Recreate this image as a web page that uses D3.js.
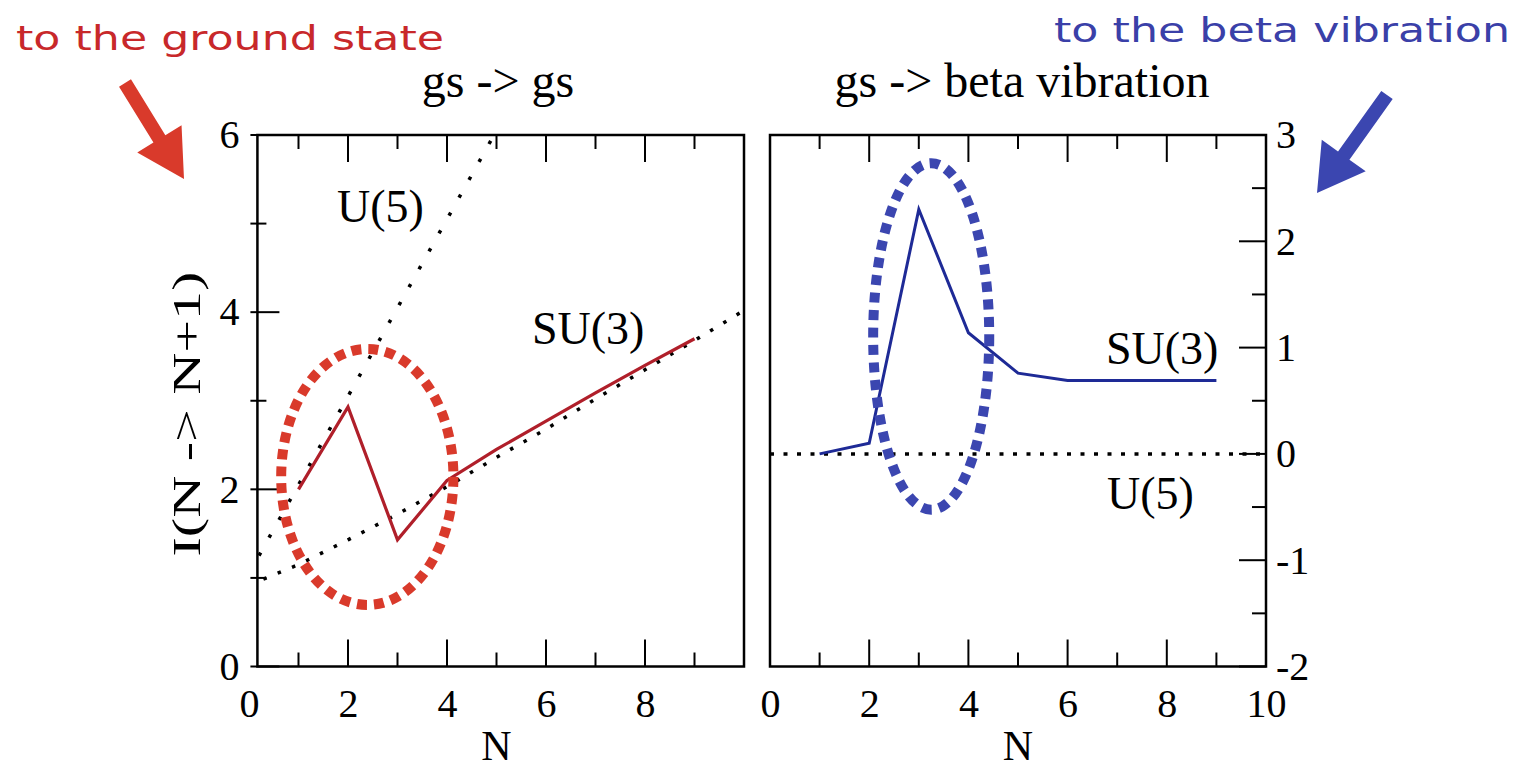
<!DOCTYPE html>
<html>
<head>
<meta charset="utf-8">
<script src="https://cdn.jsdelivr.net/npm/d3@7"></script>
<style>
  html, body { margin: 0; padding: 0; background: #ffffff; }
  svg { display: block; }
</style>
</head>
<body>
<svg id="chart" width="1524" height="768"></svg>
<script>
// ---- data -------------------------------------------------------------
// tick values
const nTicksLeft = [0, 2, 4, 6, 8];
const nTicksRight = [0, 2, 4, 6, 8, 10];
const nMinorTicks = [1, 3, 5, 7, 9];
const gsTicks = [0, 2, 4, 6];
const gsMinorTicks = [1, 3, 5];
const betaTicks = [-2, -1, 0, 1, 2, 3];
const betaMinorTicks = [-1.5, -0.5, 0.5, 1.5, 2.5];

// gs -> gs : calculated curve and the two limits
const gsN = [1, 2, 3, 4, 5, 6, 7, 8, 9];
const gsValues = [2.00, 2.93, 1.43, 2.10, 2.45, 2.77, 3.09, 3.40, 3.70];
const gsU5N = [0, 1, 2, 3, 4, 5];
const gsU5Values = [1.05, 2.05, 3.05, 4.05, 5.05, 6.05];
const gsSU3N = [0, 1, 2, 3, 4, 5, 6, 7, 8, 9, 10];
const gsSU3Values = [0.92, 1.15, 1.43, 1.72, 2.03, 2.36, 2.68, 3.02, 3.35, 3.68, 4.02];

// gs -> beta vibration : calculated curve and the U(5) limit
const betaN = [1, 2, 3, 4, 5, 6, 7, 8, 9];
const betaValues = [0.00, 0.10, 2.30, 1.14, 0.76, 0.69, 0.69, 0.69, 0.69];
const betaU5N = [0, 10];
const betaU5Values = [0, 0];

// highlighted regions: [centre N, centre value, radius in N, radius in value]
const gsHighlight = [2.39, 2.14, 1.74, 1.445];
const betaHighlight = [3.25, 1.105, 1.17, 1.63];

// ---- layout -----------------------------------------------------------
const svg = d3.select("#chart");
const serif = "'Liberation Serif', 'Times New Roman', Times, serif";
const handFont = "'DejaVu Sans', Verdana, sans-serif";
const plain = d => String(d);

const yTop = 135, yBottom = 666.5;
const xGs = d3.scaleLinear().domain([0, 10]).range([249, 744]);
const yGs = d3.scaleLinear().domain([0, 6]).range([yBottom, yTop]);
const xBeta = d3.scaleLinear().domain([0, 10]).range([770, 1266]);
const yBeta = d3.scaleLinear().domain([-2, 3]).range([yBottom, yTop]);
const gsFrameStart = 0.17;   // left edge of the first frame in N units

const RED_LINE = "#b01f2a", RED = "#d93a2b";
const BLUE_LINE = "#1e2a96", BLUE = "#3b46b0";

const majorLen = 27, minorLen = 14, outLen = 7;

function frame(g, x0, x1) {
  g.append("rect")
    .attr("x", x0).attr("y", yTop)
    .attr("width", x1 - x0).attr("height", yBottom - yTop)
    .attr("fill", "none").attr("stroke", "#000").attr("stroke-width", 2.5);
}

function xTicks(g, x, values, len) {
  values.forEach(v => {
    g.append("line").attr("x1", x(v)).attr("x2", x(v))
      .attr("y1", yBottom).attr("y2", yBottom - len)
      .attr("stroke", "#000").attr("stroke-width", 2);
    g.append("line").attr("x1", x(v)).attr("x2", x(v))
      .attr("y1", yTop).attr("y2", yTop + len)
      .attr("stroke", "#000").attr("stroke-width", 2);
  });
}

function styleLabels(g, size) {
  g.select(".domain").remove();
  g.selectAll("text").attr("font-family", serif).attr("font-size", size).attr("fill", "#000");
}

// ---- panel 1 : gs -> gs ----------------------------------------------
const p1 = svg.append("g");
const p1x0 = xGs(gsFrameStart), p1x1 = xGs(10);

svg.append("defs").append("clipPath").attr("id", "clipGs")
  .append("rect").attr("x", p1x0).attr("y", yTop)
  .attr("width", p1x1 - p1x0).attr("height", yBottom - yTop);

// bottom axis labels
p1.append("g")
  .attr("transform", `translate(0,${yBottom})`)
  .call(d3.axisBottom(xGs).tickValues(nTicksLeft).tickSize(0).tickPadding(22).tickFormat(plain))
  .call(g => styleLabels(g, 40));

// left axis labels
p1.append("g")
  .attr("transform", `translate(${p1x0},0)`)
  .call(d3.axisLeft(yGs).tickValues(gsTicks).tickSize(0).tickPadding(18).tickFormat(plain))
  .call(g => styleLabels(g, 40));

xTicks(p1, xGs, nTicksLeft.filter(d => d > 0), majorLen);
xTicks(p1, xGs, nMinorTicks, minorLen);
gsTicks.forEach(v => p1.append("line")
  .attr("x1", p1x0 - outLen).attr("x2", p1x0 + 22)
  .attr("y1", yGs(v)).attr("y2", yGs(v)).attr("stroke", "#000").attr("stroke-width", 2));
gsMinorTicks.forEach(v => p1.append("line")
  .attr("x1", p1x0 - outLen).attr("x2", p1x0 + 9)
  .attr("y1", yGs(v)).attr("y2", yGs(v)).attr("stroke", "#000").attr("stroke-width", 2));

const lineGs = d3.line().x(d => xGs(d[0])).y(d => yGs(d[1]));
const plot1 = p1.append("g").attr("clip-path", "url(#clipGs)");

plot1.append("path").datum(d3.zip(gsU5N, gsU5Values)).attr("d", lineGs)
  .attr("fill", "none").attr("stroke", "#000").attr("stroke-width", 3.5)
  .attr("stroke-dasharray", "3.5,17");
plot1.append("path").datum(d3.zip(gsSU3N, gsSU3Values)).attr("d", lineGs)
  .attr("fill", "none").attr("stroke", "#000").attr("stroke-width", 3.5)
  .attr("stroke-dasharray", "3.5,12");
plot1.append("path").datum(d3.zip(gsN, gsValues)).attr("d", lineGs)
  .attr("fill", "none").attr("stroke", RED_LINE).attr("stroke-width", 3.2)
  .attr("stroke-linejoin", "miter");

frame(p1, p1x0, p1x1);

p1.append("ellipse")
  .attr("cx", xGs(gsHighlight[0])).attr("cy", yGs(gsHighlight[1]))
  .attr("rx", xGs(gsHighlight[0] + gsHighlight[2]) - xGs(gsHighlight[0]))
  .attr("ry", yGs(gsHighlight[1]) - yGs(gsHighlight[1] + gsHighlight[3]))
  .attr("fill", "none").attr("stroke", RED).attr("stroke-width", 10)
  .attr("stroke-dasharray", "10,7");

p1.append("text").text("U(5)").attr("x", 337).attr("y", 222)
  .attr("font-family", serif).attr("font-size", 46);
p1.append("text").text("SU(3)").attr("x", 532).attr("y", 344)
  .attr("font-family", serif).attr("font-size", 46);
p1.append("text").text("gs -> gs").attr("x", 498).attr("y", 97)
  .attr("text-anchor", "middle").attr("font-family", serif).attr("font-size", 48);
p1.append("text").text("N").attr("x", xGs(5)).attr("y", 760)
  .attr("text-anchor", "middle").attr("font-family", serif).attr("font-size", 42);
p1.append("text").text("I(N -> N+1)")
  .attr("transform", `translate(200,${yGs(2.85)}) rotate(-90)`)
  .attr("text-anchor", "middle").attr("font-family", serif).attr("font-size", 40)
  .attr("textLength", 285).attr("lengthAdjust", "spacingAndGlyphs");

// ---- panel 2 : gs -> beta vibration ------------------------------------
const p2 = svg.append("g");
const p2x0 = xBeta(0), p2x1 = xBeta(10);

p2.append("g")
  .attr("transform", `translate(0,${yBottom})`)
  .call(d3.axisBottom(xBeta).tickValues(nTicksRight).tickSize(0).tickPadding(22).tickFormat(plain))
  .call(g => styleLabels(g, 40));

p2.append("g")
  .attr("transform", `translate(${p2x1},0)`)
  .call(d3.axisRight(yBeta).tickValues(betaTicks).tickSize(0).tickPadding(10).tickFormat(plain))
  .call(g => styleLabels(g, 40));

xTicks(p2, xBeta, nTicksRight.filter(d => d > 0 && d < 10), majorLen);
xTicks(p2, xBeta, nMinorTicks, minorLen);
betaTicks.forEach(v => p2.append("line")
  .attr("x1", p2x1 - 27).attr("x2", p2x1)
  .attr("y1", yBeta(v)).attr("y2", yBeta(v)).attr("stroke", "#000").attr("stroke-width", 2));
betaMinorTicks.forEach(v => p2.append("line")
  .attr("x1", p2x1 - 14).attr("x2", p2x1)
  .attr("y1", yBeta(v)).attr("y2", yBeta(v)).attr("stroke", "#000").attr("stroke-width", 2));

const lineBeta = d3.line().x(d => xBeta(d[0])).y(d => yBeta(d[1]));
p2.append("path").datum(d3.zip(betaU5N, betaU5Values)).attr("d", lineBeta)
  .attr("fill", "none").attr("stroke", "#000").attr("stroke-width", 3.5)
  .attr("stroke-dasharray", "4,9.5");
p2.append("path").datum(d3.zip(betaN, betaValues)).attr("d", lineBeta)
  .attr("fill", "none").attr("stroke", BLUE_LINE).attr("stroke-width", 3);

frame(p2, p2x0, p2x1);

p2.append("ellipse")
  .attr("cx", xBeta(betaHighlight[0])).attr("cy", yBeta(betaHighlight[1]))
  .attr("rx", xBeta(betaHighlight[0] + betaHighlight[2]) - xBeta(betaHighlight[0]))
  .attr("ry", yBeta(betaHighlight[1]) - yBeta(betaHighlight[1] + betaHighlight[3]))
  .attr("fill", "none").attr("stroke", BLUE).attr("stroke-width", 10)
  .attr("stroke-dasharray", "10,7.5");

p2.append("text").text("SU(3)").attr("x", 1106).attr("y", 364)
  .attr("font-family", serif).attr("font-size", 46);
p2.append("text").text("U(5)").attr("x", 1107).attr("y", 509)
  .attr("font-family", serif).attr("font-size", 46);
p2.append("text").text("gs -> beta vibration").attr("x", 1022).attr("y", 97)
  .attr("text-anchor", "middle").attr("font-family", serif).attr("font-size", 48);
p2.append("text").text("N").attr("x", xBeta(5)).attr("y", 760)
  .attr("text-anchor", "middle").attr("font-family", serif).attr("font-size", 42);

// ---- callouts -----------------------------------------------------------
function arrow(tail, tip, shaft, headLen, headWidth) {
  const dx = tip[0] - tail[0], dy = tip[1] - tail[1];
  const len = Math.hypot(dx, dy);
  const ux = dx / len, uy = dy / len, nx = -uy, ny = ux;
  const b = [tip[0] - ux * headLen, tip[1] - uy * headLen];
  const pt = (p, s) => [p[0] + nx * s, p[1] + ny * s];
  return [pt(tail, shaft / 2), pt(b, shaft / 2), pt(b, headWidth / 2), tip,
          pt(b, -headWidth / 2), pt(b, -shaft / 2), pt(tail, -shaft / 2)];
}

svg.append("polygon")
  .attr("points", arrow([125, 83], [184, 179], 14, 47, 52).map(p => p.join(",")).join(" "))
  .attr("fill", RED);
svg.append("polygon")
  .attr("points", arrow([1387, 95], [1317, 193], 14, 46, 54).map(p => p.join(",")).join(" "))
  .attr("fill", BLUE);

svg.append("text").text("to the ground state")
  .attr("x", 16).attr("y", 50).attr("textLength", 428).attr("lengthAdjust", "spacingAndGlyphs")
  .attr("font-family", handFont).attr("font-size", 33).attr("fill", "#c8282a");
svg.append("text").text("to the beta vibration")
  .attr("x", 1054).attr("y", 42).attr("textLength", 456).attr("lengthAdjust", "spacingAndGlyphs")
  .attr("font-family", handFont).attr("font-size", 33).attr("fill", "#3a40a8");
</script>
</body>
</html>
